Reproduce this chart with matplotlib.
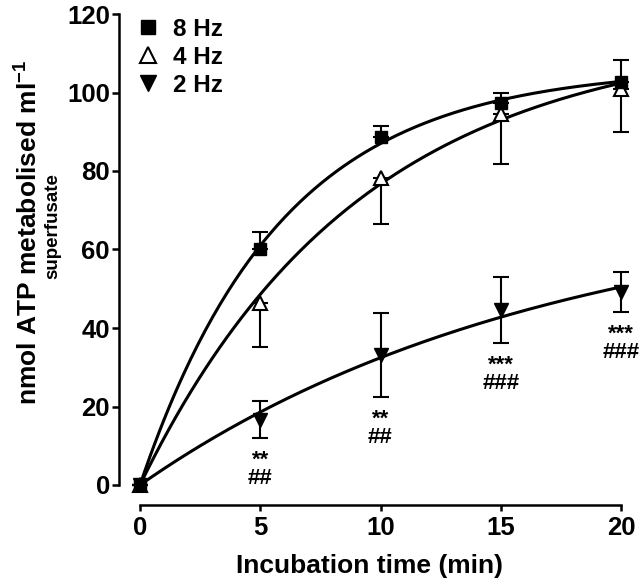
import numpy as np
import matplotlib
matplotlib.use('Agg')
import matplotlib.pyplot as plt
from matplotlib.lines import Line2D

### Data

# Incubation time (min)
time_min = [0, 5, 10, 15, 20]

# nmol ATP metabolised per ml superfusate (mean) and SEM
atp_8hz = [0, 60.0, 88.7, 97.3, 102.7]
sem_8hz = [0, 4.5, 2.8, 2.6, 5.6]
atp_4hz = [0, 46.4, 78.2, 94.6, 100.8]
sem_4hz = [0, 11.2, 11.7, 12.7, 10.8]
atp_2hz = [0, 16.6, 33.1, 44.6, 49.2]
sem_2hz = [0, 4.7, 10.7, 8.4, 5.1]

# Significance marks under the 2 Hz points
sig_stars = ['', '**', '**', '***', '***']
sig_hash = ['', '##', '##', '###', '###']

legend_labels = ['8 Hz', '4 Hz', '2 Hz']
y_ticks = [0, 20, 40, 60, 80, 100, 120]
x_ticks = [0, 5, 10, 15, 20]

### Style

plt.rcParams['font.family'] = ['Liberation Sans', 'DejaVu Sans']
plt.rcParams['font.weight'] = 'bold'
plt.rcParams['mathtext.fontset'] = 'custom'
plt.rcParams['mathtext.rm'] = 'Liberation Sans:bold'
plt.rcParams['mathtext.default'] = 'rm'


# One-phase exponential association fitted to the means (like the original)
def fit_exp(t, y):
    t = np.asarray(t, dtype=float)
    y = np.asarray(y, dtype=float)
    best = None
    for k in np.linspace(0.005, 1.0, 4000):
        f = 1 - np.exp(-k * t)
        ymax = (f @ y) / (f @ f)
        sse = ((ymax * f - y) ** 2).sum()
        if best is None or sse < best[0]:
            best = (sse, ymax, k)
    return best[1], best[2]


t_fine = np.linspace(0, 20, 200)

fig = plt.figure(figsize=(6.4, 5.83), dpi=100)
ax = fig.add_axes([119 / 640, 1 - 505 / 583, 502 / 640, 491 / 583])

lw = 2.2
for y in [atp_8hz, atp_4hz, atp_2hz]:
    ymax, k = fit_exp(time_min, y)
    ax.plot(t_fine, ymax * (1 - np.exp(-k * t_fine)), color='black', lw=lw, zorder=2)

err_kw = dict(fmt='none', ecolor='black', elinewidth=1.5, capsize=5.8, capthick=1.5,
              clip_on=False, zorder=3)
# 8 Hz: upper bars only, 4 Hz: lower bars only, 2 Hz: both
ax.errorbar(time_min, atp_8hz, yerr=[np.zeros(5), sem_8hz], **err_kw)
ax.errorbar(time_min, atp_4hz, yerr=[sem_4hz, np.zeros(5)], **err_kw)
ax.errorbar(time_min, atp_2hz, yerr=sem_2hz, **err_kw)

ax.plot(time_min, atp_2hz, 'v', ms=10.5, color='black', clip_on=False, zorder=4)
ax.plot(time_min, atp_4hz, '^', ms=10.5, mfc='white', mec='black', mew=1.5,
        clip_on=False, zorder=4)
ax.plot(time_min, atp_8hz, 's', ms=9, color='black', clip_on=False, zorder=5)

# significance labels below the 2 Hz error bars (stars over hashes)
for t, y, e, s, h in zip(time_min, atp_2hz, sem_2hz, sig_stars, sig_hash):
    if s == '':
        continue
    ax.annotate(s + '\n' + h, (t, y - e), xytext=(0, -8.5), textcoords='offset points',
                ha='center', va='top', multialignment='center', linespacing=0.82,
                fontsize=16, fontweight='bold')

### Axes

ax.set_xlim(-21 / 24.05, 20)
ax.set_ylim(-20 / 3.925, 120)
for side in ['top', 'right']:
    ax.spines[side].set_visible(False)
ax.spines['left'].set_bounds(0, 120)
ax.spines['bottom'].set_bounds(0, 20)
for side in ['left', 'bottom']:
    ax.spines[side].set_linewidth(1.8)
ax.set_xticks(x_ticks)
ax.set_yticks(y_ticks)
ax.tick_params(axis='y', length=5, width=1.8, pad=1.5, labelsize=18.5)
ax.tick_params(axis='x', length=4, width=1.8, pad=4, labelsize=18.5)
for lab in ax.get_xticklabels() + ax.get_yticklabels():
    lab.set_fontweight('bold')

ax.set_xlabel('Incubation time (min)', fontsize=19, fontweight='bold', labelpad=10)

# two-line y label, second line smaller
fig.text(29.5 / 640, 1 - 232 / 583, 'nmol ATP metabolised ml$^{-1}$', rotation=90,
         ha='center', va='center', fontsize=19, fontweight='bold')
fig.text(53 / 640, 1 - 226 / 583, 'superfusate', rotation=90,
         ha='center', va='center', fontsize=13.5, fontweight='bold')

### Legend

handles = [
    Line2D([], [], ls='none', marker='s', ms=9.5, color='black'),
    Line2D([], [], ls='none', marker='^', ms=11, mfc='white', mec='black', mew=1.5),
    Line2D([], [], ls='none', marker='v', ms=11, color='black'),
]
fig.legend(handles, legend_labels, loc='upper left', bbox_to_anchor=(136 / 640, 1 - 18 / 583),
           frameon=False, handlelength=1.0, handletextpad=0.53,
           labelspacing=0.2, borderpad=0, borderaxespad=0,
           prop={'weight': 'bold', 'size': 17.5})

fig.savefig('out.png', dpi=100)
